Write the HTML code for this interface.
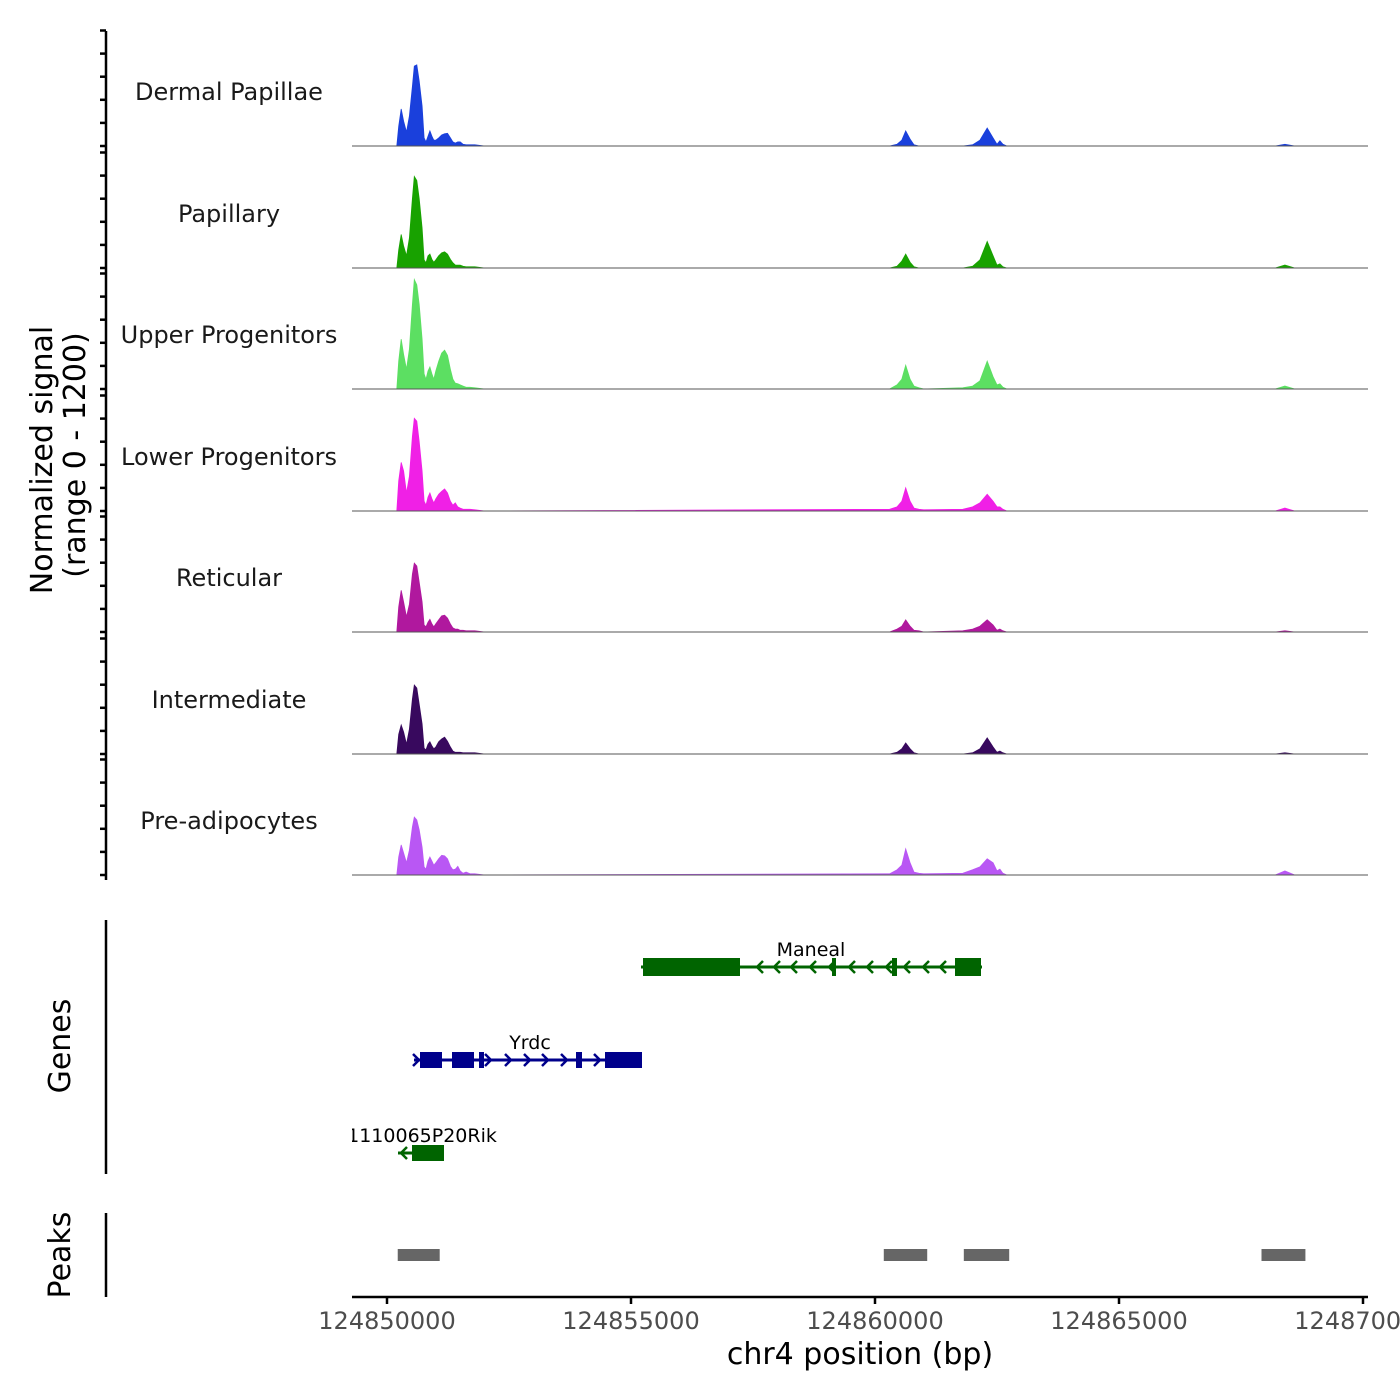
<!DOCTYPE html>
<html><head><meta charset="utf-8">
<style>
html,body{margin:0;padding:0;background:#fff;}
svg{display:block;font-family:"DejaVu Sans","Liberation Sans",sans-serif;}
</style></head>
<body>
<svg id="chart" width="1400" height="1400" viewBox="0 0 1400 1400" xmlns="http://www.w3.org/2000/svg">
<defs><clipPath id="clipX"><rect x="352" y="0" width="1048" height="1400"/></clipPath></defs>
<g id="tracks"></g>
<g id="axes">
  <line x1="106" y1="31" x2="106" y2="880" stroke="#000" stroke-width="2.5"/>
  <text transform="translate(52,460) rotate(-90)" text-anchor="middle" font-size="30">Normalized signal</text>
  <text transform="translate(85,455) rotate(-90)" text-anchor="middle" font-size="30">(range 0 - 1200)</text>
  <line x1="106" y1="920" x2="106" y2="1174" stroke="#000" stroke-width="2.5"/>
  <text transform="translate(70,1046) rotate(-90)" text-anchor="middle" font-size="30">Genes</text>
  <line x1="106" y1="1213" x2="106" y2="1297" stroke="#000" stroke-width="2.5"/>
  <text transform="translate(70,1255) rotate(-90)" text-anchor="middle" font-size="30">Peaks</text>
  <line x1="352" y1="1297" x2="1368" y2="1297" stroke="#000" stroke-width="2.5"/>
  <text x="860" y="1364" text-anchor="middle" font-size="30">chr4 position (bp)</text>
</g>
<g id="genes" clip-path="url(#clipX)"></g>
<g id="peaks"></g>
<g id="xticks"></g>
</svg>
<script>
const trackNames = ["Dermal Papillae","Papillary","Upper Progenitors","Lower Progenitors","Reticular","Intermediate","Pre-adipocytes"];
const trackColors = ["#1a40dc","#18a200","#5cdf62","#f020e6","#b0189e","#38095e","#b957f4"];
const offsets = [200,240,290,340,400,460,520,560,610,660,720,760,800,840,880,920,960,1000,1060,1120,1180,1240,1300,1350,1400,1450,1500,1560,1620,1700,1800,2000, 10300,10450,10550,10630,10720,10800,10900,11000, 11800,12000,12150,12300,12420,12500,12560,12620,12700, 18200,18400,18600];
const sigDermal = [0,170,320,215,120,260,515,690,700,560,345,70,35,85,130,85,50,50,70,95,105,110,70,35,25,35,35,15,10,10,10,0, 0,15,50,130,60,10,0,0, 0,10,50,155,70,15,45,15,0, 0,15,0];
const sigPapillary = [0,155,290,190,105,260,600,790,755,600,345,70,45,105,120,75,50,70,105,130,140,120,75,45,25,25,25,15,10,10,10,0, 0,15,60,120,50,10,0,0, 0,15,70,230,105,25,35,10,0, 0,25,0];
const sigUpper = [0,240,430,300,170,345,730,945,900,730,430,130,85,155,190,130,85,155,240,310,335,290,170,85,50,45,35,25,15,15,10,0, 0,35,85,205,85,25,10,0, 10,25,70,240,105,35,45,15,0, 0,25,0];
const sigLower = [0,260,420,345,155,300,645,800,775,600,345,85,50,120,155,105,70,105,145,170,190,155,85,50,70,35,25,15,15,15,10,0, 15,35,85,200,85,25,15,10, 15,35,70,145,85,35,35,15,0, 0,25,0];
const sigReticular = [0,215,360,260,130,240,500,595,570,430,260,60,45,85,110,70,45,70,105,140,145,120,70,35,25,25,15,15,10,10,10,0, 0,25,50,105,50,15,10,0, 10,25,50,105,60,15,25,10,0, 0,10,0];
const sigIntermediate = [0,170,250,190,85,215,475,595,570,430,260,50,35,85,105,70,45,60,105,130,145,110,60,25,15,15,15,10,10,10,10,0, 0,15,45,95,45,10,0,0, 0,10,45,140,60,15,25,10,0, 0,10,0];
const sigPreadipo = [0,155,260,190,105,215,415,500,475,390,240,70,50,120,155,120,85,105,140,170,165,140,75,45,50,75,35,15,25,10,10,0, 10,45,85,225,105,25,15,10, 15,45,70,140,105,35,50,15,0, 0,35,0];
const signals = [sigDermal,sigPapillary,sigUpper,sigLower,sigReticular,sigIntermediate,sigPreadipo];
const xTicks = [124850000,124855000,124860000,124865000,124870000];
const peakStarts = [124850220,124860180,124861820,124867920];
const peakEnds = [124851080,124861070,124862750,124868820];

const NS="http://www.w3.org/2000/svg";
const ORIGIN=124850000;
function xs(bp){return 387+(bp-ORIGIN)/1000*48.8;}
const baselines=[146,268,389,511,632,754,875];
function ys(v,b){return b-v/1200*139;}
function mk(tag,attrs,parent){const e=document.createElementNS(NS,tag);for(const k in attrs)e.setAttribute(k,attrs[k]);parent.appendChild(e);return e;}

const tracks=document.getElementById('tracks');
const axes=document.getElementById('axes');
trackNames.forEach((name,i)=>{
  const b=baselines[i];
  const g=mk('g',{},tracks);
  
  
  const lab=mk('text',{x:229,y:b-46,'text-anchor':'middle','font-size':24,fill:'#1a1a1a'},g);
  lab.textContent=name;
  
  
  const vals=signals[i];
  let d='M'+xs(ORIGIN+offsets[0])+','+b;
  offsets.forEach((o,j)=>{d+='L'+xs(ORIGIN+o).toFixed(1)+','+ys(vals[j],b).toFixed(1);});
  d+='L'+xs(ORIGIN+offsets[offsets.length-1])+','+b+'Z';
  const area=mk('path',{d:d,fill:trackColors[i],stroke:trackColors[i],'stroke-width':0.8},g);
  
  
  const bl=mk('line',{x1:352,y1:b,x2:1368,y2:b,stroke:'#555','stroke-width':1},g);
  
  
  for(let k=0;k<=5;k++){
    const ty=b-k*23.1;
    const t=mk('line',{x1:100,y1:ty,x2:106,y2:ty,stroke:'#000','stroke-width':2.5},axes);
    
    
  }
});

const genes=document.getElementById('genes');
function gene(name,color,y,x1,x2,exons,dir,labelX,arrows){
  const g=mk('g',{},genes);
  
  
  mk('line',{x1:x1,y1:y,x2:x2,y2:y,stroke:color,'stroke-width':3},g);
  exons.forEach(e=>{mk('rect',{x:e[0],y:y-e[2]/2,width:e[1]-e[0],height:e[2],fill:color},g);});
  arrows.forEach(ax=>{
    const s=dir>0?-6:6;
    mk('polyline',{points:(ax+s)+','+(y-6)+' '+ax+','+y+' '+(ax+s)+','+(y+6),fill:'none',stroke:color,'stroke-width':2.5},g);
  });
  const t=mk('text',{x:labelX,y:y-11,'text-anchor':'middle','font-size':19,fill:'#000'},g);
  t.textContent=name;
  
  
}
gene('Maneal','#006400',967,641,982,[[643,740,18],[955,981,18],[832,836,18],[892,897,18]],-1,811,[757,774,791,810,829,849,867,886,904,923,940]);
gene('Yrdc','#00008b',1060,414,642,[[420,442,16],[452,474,16],[479,484,16],[576,582,16],[605,642,16]],1,530,[419,491,511,530,548,567,600]);
gene('1110065P20Rik','#006400',1153,398,444,[[412,444,16]],-1,422,[401]);

const peaks=document.getElementById('peaks');
peakStarts.forEach((s,i)=>{
  const r=mk('rect',{x:xs(s),y:1249,width:xs(peakEnds[i])-xs(s),height:12,fill:'#666'},peaks);
  
  
});

const xt=document.getElementById('xticks');
xTicks.forEach(v=>{
  const x=xs(v);
  const l=mk('line',{x1:x,y1:1297,x2:x,y2:1304,stroke:'#000','stroke-width':2.5},xt);
  
  
  const t=mk('text',{x:x,y:1329,'text-anchor':'middle','font-size':24,fill:'#4d4d4d'},xt);
  t.textContent=String(v);
  
  
});
</script>
</body></html>
